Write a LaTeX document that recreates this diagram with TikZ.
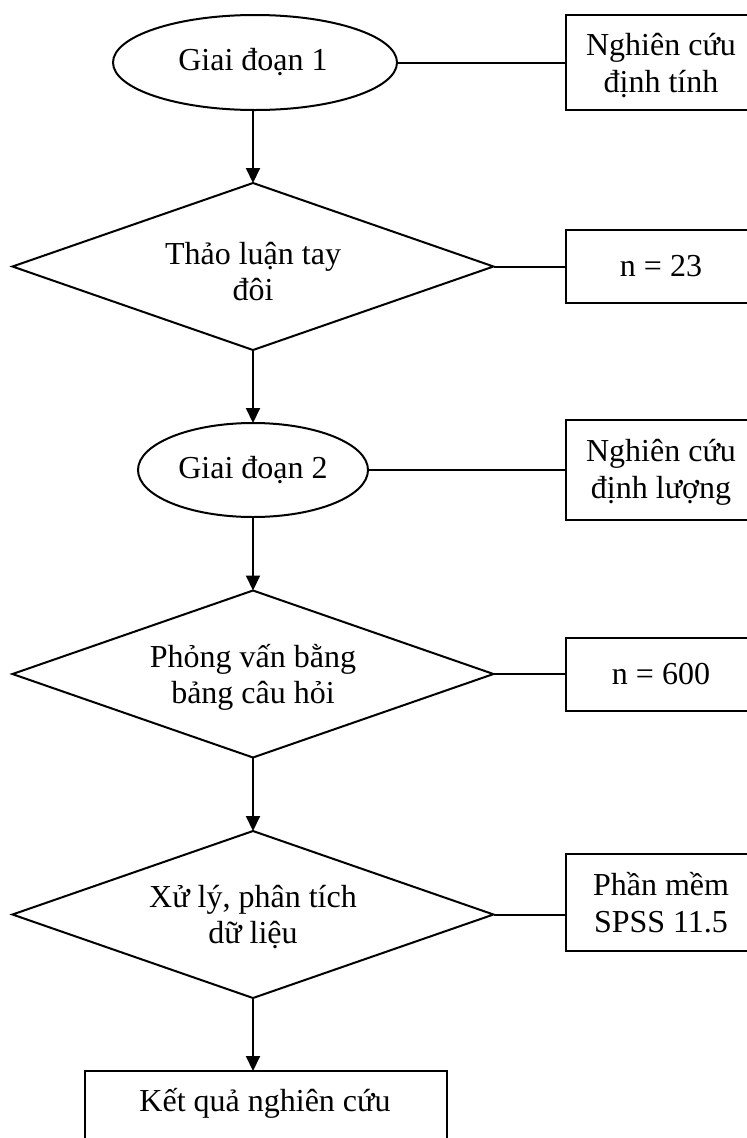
\documentclass[tikz,border=0pt]{standalone}
\usepackage{fontspec}
\setmainfont{Liberation Serif}
\usetikzlibrary{shapes.geometric,arrows.meta}
\begin{document}
\begin{tikzpicture}[x=1pt,y=-1pt,
  shp/.style={draw, line width=2pt, inner sep=0pt, outer sep=0pt},
  oval/.style={shp, ellipse},
  dia/.style={shp, diamond, minimum width=481pt, minimum height=167pt},
  box/.style={shp, rectangle},
  txt/.style={font=\fontsize{32}{37}\selectfont, inner sep=0pt, anchor=base},
  link/.style={line width=2pt},
  flow/.style={line width=2pt, -{Triangle[length=15pt,width=14pt]}}]
\clip (0,0) rectangle (747,1138);
% stage 1
\node[oval, minimum width=284pt, minimum height=95pt] (g1) at (255,62.5) {};
\node[txt] (g1t) at (253,70) {Giai đoạn 1};
\node[box, minimum width=192pt, minimum height=95pt] (b1) at (662,62) {};
\node[txt] (b1t1) at (661,55) {Nghiên cứu};
\node[txt] (b1t2) at (661,92) {định tính};
% diamond 1
\node[dia] (d1) at (253,266.5) {};
\node[txt] (d1t1) at (253,264) {Thảo luận tay};
\node[txt] (d1t2) at (253,300) {đôi};
\node[box, minimum width=192pt, minimum height=73pt] (b2) at (662,266.5) {};
\node[txt] (b2t) at (661,276) {n = 23};
% stage 2
\node[oval, minimum width=230pt, minimum height=94pt] (g2) at (253,470) {};
\node[txt] (g2t) at (253,478) {Giai đoạn 2};
\node[box, minimum width=192pt, minimum height=100pt] (b3) at (662,469.5) {};
\node[txt] (b3t1) at (661,461) {Nghiên cứu};
\node[txt] (b3t2) at (661,498) {định lượng};
% diamond 2
\node[dia] (d2) at (253,674) {};
\node[txt] (d2t1) at (253,667) {Phỏng vấn bằng};
\node[txt] (d2t2) at (253,703) {bảng câu hỏi};
\node[box, minimum width=192pt, minimum height=73pt] (b4) at (662,674.5) {};
\node[txt] (b4t) at (661,684) {n = 600};
% diamond 3
\node[dia] (d3) at (253,914.5) {};
\node[txt] (d3t1) at (253,907) {Xử lý, phân tích};
\node[txt] (d3t2) at (253,943) {dữ liệu};
\node[box, minimum width=192pt, minimum height=97pt] (b5) at (662,902.5) {};
\node[txt] (b5t1) at (661,895) {Phần mềm};
\node[txt] (b5t2) at (661,932) {SPSS 11.5};
% result
\node[box, minimum width=362pt, minimum height=110pt, anchor=north] (k) at (266,1071) {};
\node[txt] (kt) at (265,1111) {Kết quả nghiên cứu};
% side links
\draw[link] (g1.east) -- (g1.east -| b1.west);
\draw[link] (d1.east) -- (d1.east -| b2.west);
\draw[link] (g2.east) -- (g2.east -| b3.west);
\draw[link] (d2.east) -- (d2.east -| b4.west);
\draw[link] (d3.east) -- (d3.east -| b5.west);
% flow arrows
\draw[flow] (g1.south -| d1.north) -- (d1.north);
\draw[flow] (d1.south) -- (g2.north);
\draw[flow] (g2.south) -- (d2.north);
\draw[flow] (d2.south) -- (d3.north);
\draw[flow] (d3.south) -- (d3.south |- k.north);
\end{tikzpicture}
\end{document}
